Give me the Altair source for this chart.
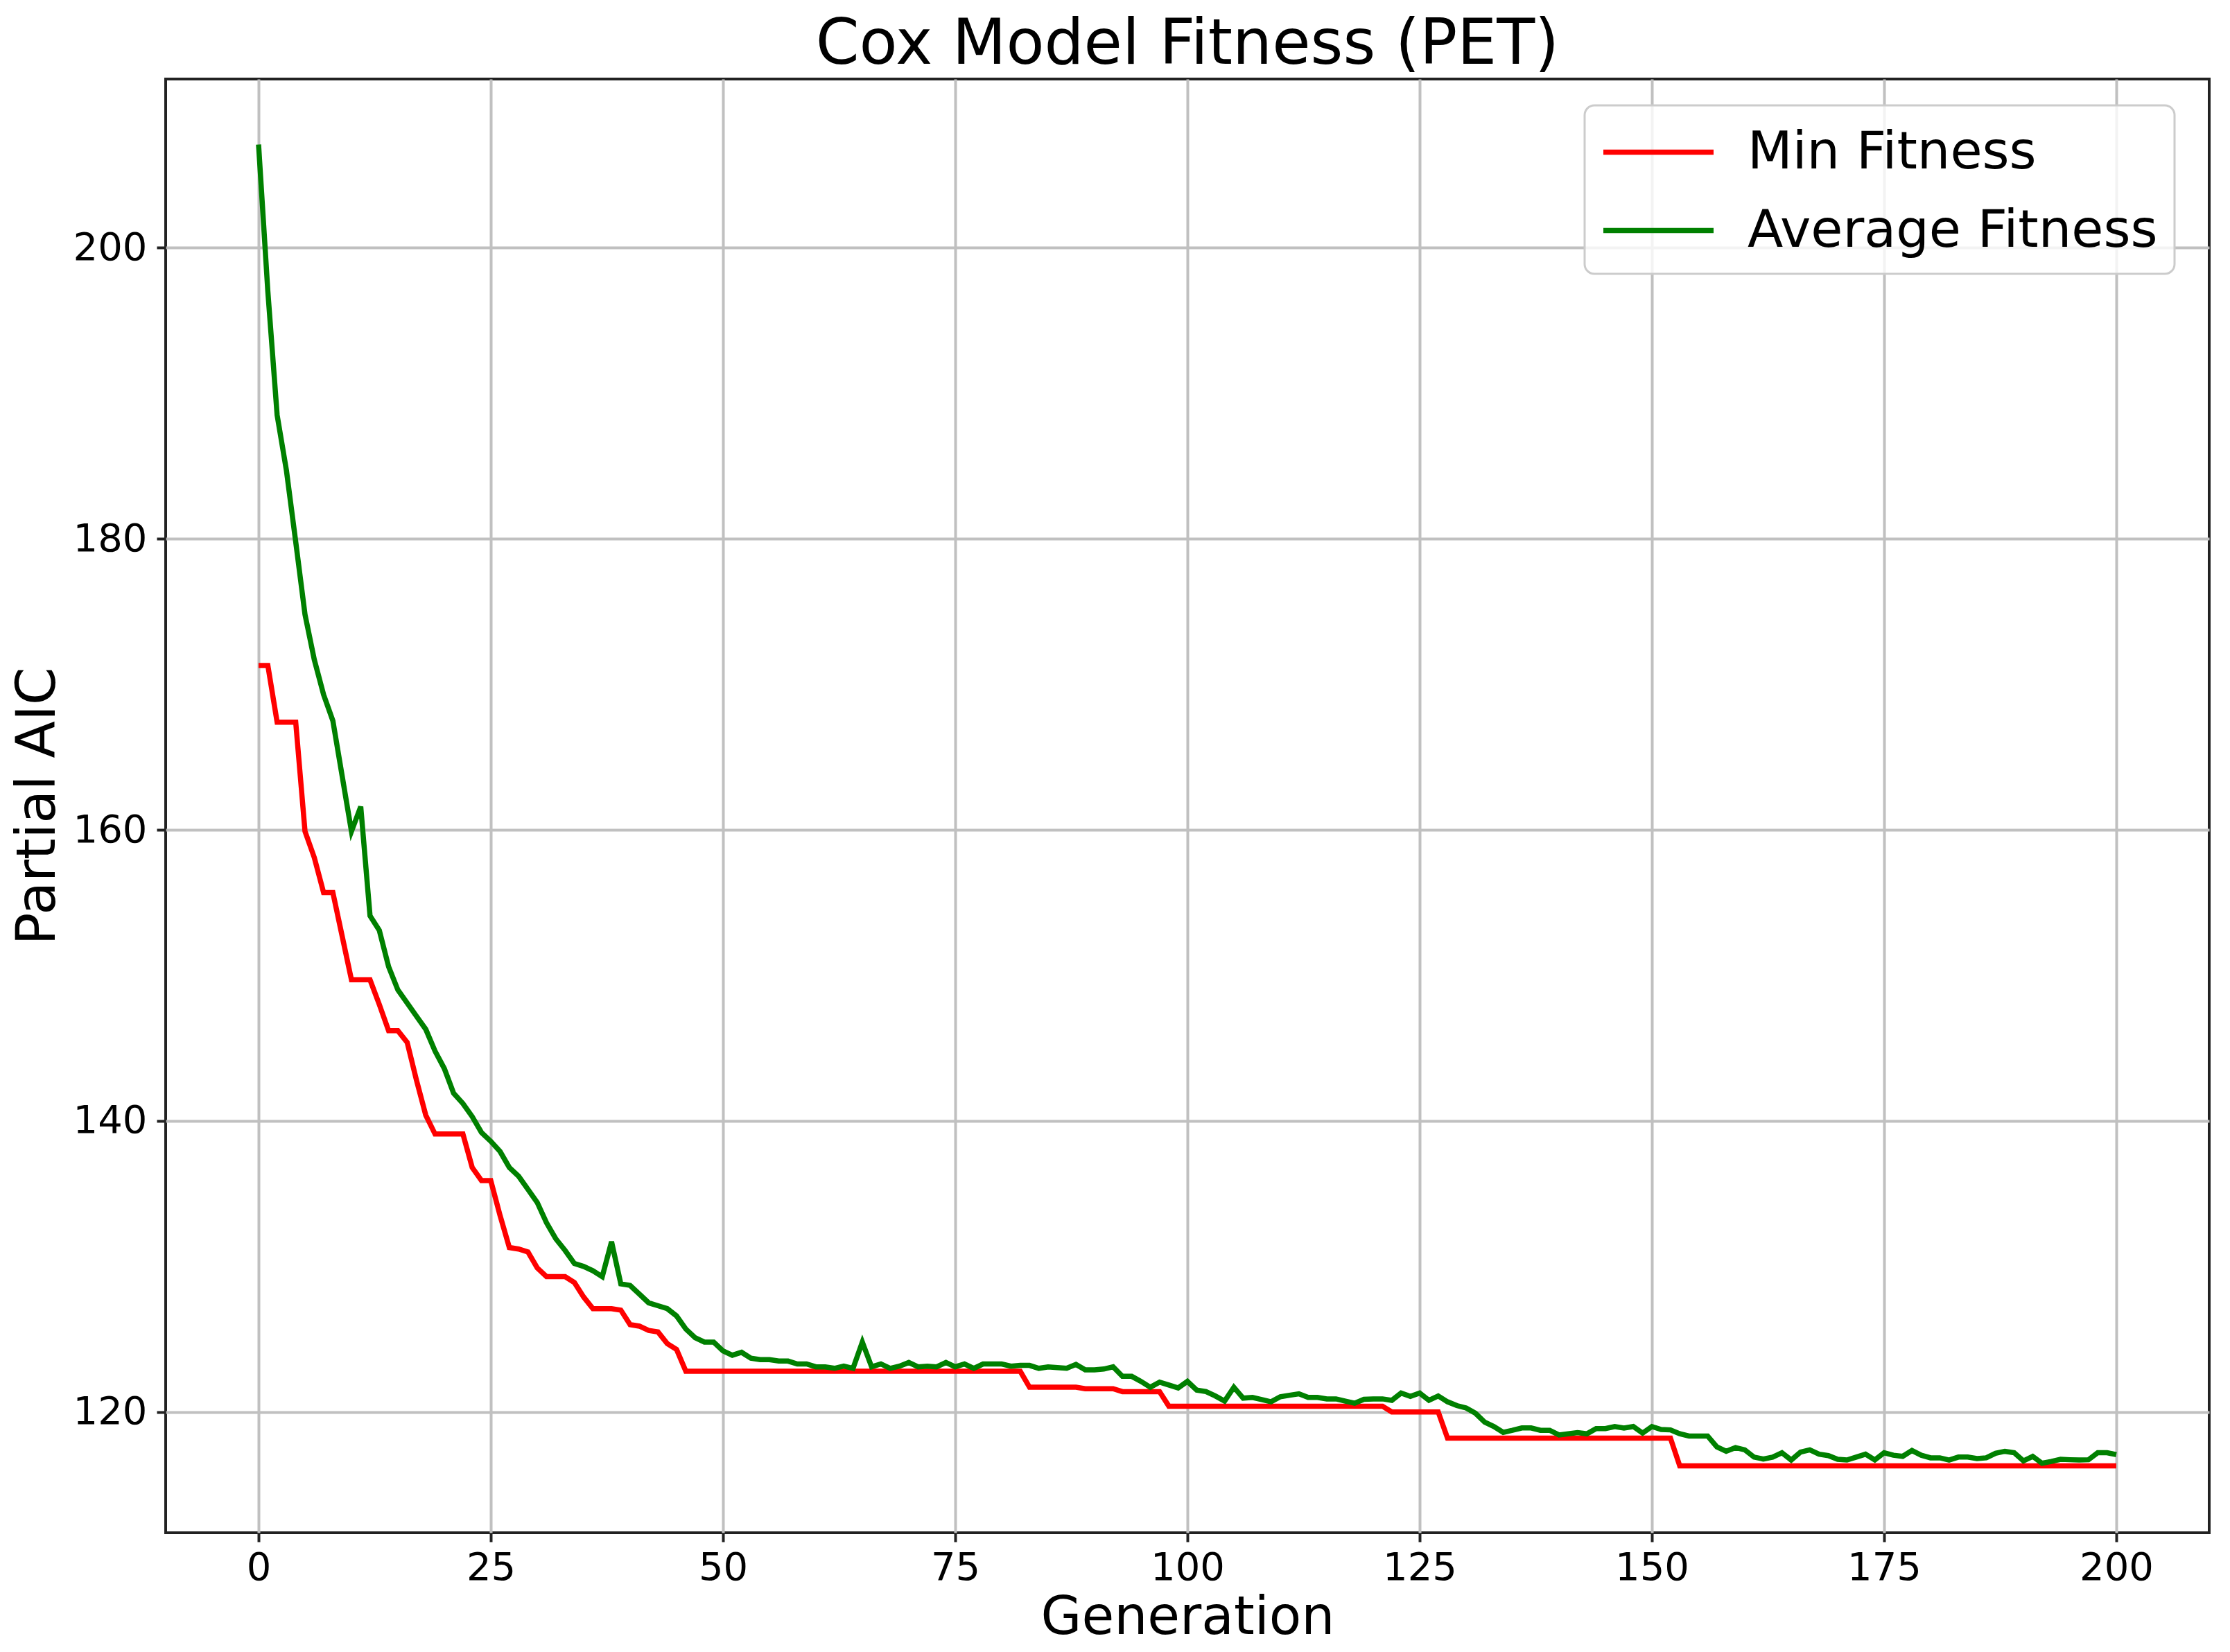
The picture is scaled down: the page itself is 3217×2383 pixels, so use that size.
import altair as alt
import pandas as pd

generations = list(range(201))

min_fitness = [
    171.3, 171.3, 167.4, 167.4, 167.4, 159.9, 158.1, 155.7, 155.7, 152.7,
    149.7, 149.7, 149.7, 148.0, 146.2, 146.2, 145.4, 142.8, 140.4, 139.1,
    139.1, 139.1, 139.1, 136.8, 135.9, 135.9, 133.5, 131.3, 131.2, 131.0,
    129.9, 129.3, 129.3, 129.3, 128.9, 127.9, 127.1, 127.1, 127.1, 127.0,
    126.0, 125.9, 125.6, 125.5, 124.7, 124.3, 122.8, 122.8, 122.8, 122.8,
    122.8, 122.8, 122.8, 122.8, 122.8, 122.8, 122.8, 122.8, 122.8, 122.8,
    122.8, 122.8, 122.8, 122.8, 122.8, 122.8, 122.8, 122.8, 122.8, 122.8,
    122.8, 122.8, 122.8, 122.8, 122.8, 122.8, 122.8, 122.8, 122.8, 122.8,
    122.8, 122.8, 122.8, 121.7, 121.7, 121.7, 121.7, 121.7, 121.7, 121.6,
    121.6, 121.6, 121.6, 121.4, 121.4, 121.4, 121.4, 121.4, 120.4, 120.4,
    120.4, 120.4, 120.4, 120.4, 120.4, 120.4, 120.4, 120.4, 120.4, 120.4,
    120.4, 120.4, 120.4, 120.4, 120.4, 120.4, 120.4, 120.4, 120.4, 120.4,
    120.4, 120.4, 120.0, 120.0, 120.0, 120.0, 120.0, 120.0, 118.2, 118.2,
    118.2, 118.2, 118.2, 118.2, 118.2, 118.2, 118.2, 118.2, 118.2, 118.2,
    118.2, 118.2, 118.2, 118.2, 118.2, 118.2, 118.2, 118.2, 118.2, 118.2,
    118.2, 118.2, 118.2, 116.3, 116.3, 116.3, 116.3, 116.3, 116.3, 116.3,
    116.3, 116.3, 116.3, 116.3, 116.3, 116.3, 116.3, 116.3, 116.3, 116.3,
    116.3, 116.3, 116.3, 116.3, 116.3, 116.3, 116.3, 116.3, 116.3, 116.3,
    116.3, 116.3, 116.3, 116.3, 116.3, 116.3, 116.3, 116.3, 116.3, 116.3,
    116.3, 116.3, 116.3, 116.3, 116.3, 116.3, 116.3, 116.3, 116.3, 116.3,
    116.3,
]

avg_fitness = [
    207.1, 197.0, 188.5, 184.7, 179.8, 174.8, 171.7, 169.3, 167.5, 163.7,
    159.9, 161.6, 154.1, 153.1, 150.6, 149.0, 148.1, 147.2, 146.3, 144.8,
    143.6, 141.9, 141.2, 140.3, 139.2, 138.6, 137.9, 136.8, 136.2, 135.3,
    134.4, 133.0, 131.9, 131.1, 130.2, 130.0, 129.7, 129.3, 131.7, 128.8,
    128.7, 128.1, 127.5, 127.3, 127.1, 126.6, 125.7, 125.1, 124.8, 124.8,
    124.2, 123.9, 124.1, 123.7, 123.6, 123.6, 123.5, 123.5, 123.3, 123.3,
    123.1, 123.1, 123.0, 123.15, 123.0, 124.8, 123.1, 123.3, 123.0, 123.15,
    123.4, 123.1, 123.15, 123.1, 123.4, 123.1, 123.3, 123.0, 123.3, 123.3,
    123.3, 123.15, 123.2, 123.2, 123.0, 123.1, 123.05, 123.0, 123.27, 122.9,
    122.9, 122.95, 123.1, 122.45, 122.45, 122.1, 121.7, 122.05, 121.85, 121.65,
    122.1, 121.5, 121.4, 121.1, 120.75, 121.7, 120.95, 121.0, 120.85, 120.7,
    121.05, 121.15, 121.25, 121.0, 121.0, 120.9, 120.9, 120.75, 120.6, 120.87,
    120.9, 120.9, 120.8, 121.3, 121.07, 121.3, 120.8, 121.1, 120.7, 120.44,
    120.28, 119.92, 119.3, 119.0, 118.6, 118.74, 118.9, 118.9, 118.74, 118.74,
    118.42, 118.5, 118.58, 118.5, 118.86, 118.86, 119.0, 118.9, 119.0, 118.55,
    119.0, 118.8, 118.77, 118.5, 118.35, 118.35, 118.35, 117.6, 117.3, 117.55,
    117.4, 116.9, 116.77, 116.9, 117.2, 116.7, 117.24, 117.4, 117.1, 117.0,
    116.75, 116.7, 116.9, 117.1, 116.7, 117.2, 117.03, 116.95, 117.35, 117.03,
    116.85, 116.85, 116.7, 116.9, 116.9, 116.8, 116.85, 117.16, 117.3, 117.2,
    116.64, 116.95, 116.48, 116.6, 116.75, 116.72, 116.7, 116.72, 117.2, 117.2,
    117.07,
]

series_names = ["Min Fitness", "Average Fitness"]
series_colors = ["#ff0000", "#008000"]
x_ticks = [0, 25, 50, 75, 100, 125, 150, 175, 200]
y_ticks = [120, 140, 160, 180, 200]

assert len(min_fitness) == len(generations) == len(avg_fitness)

df = pd.concat([
    pd.DataFrame({"Generation": generations, "value": min_fitness, "series": series_names[0]}),
    pd.DataFrame({"Generation": generations, "value": avg_fitness, "series": series_names[1]}),
])

FONT = "DejaVu Sans"

x_enc = alt.X(
    "Generation:Q",
    scale=alt.Scale(domain=[-10, 210], nice=False, zero=False),
    axis=alt.Axis(values=x_ticks, title="Generation", titlePadding=7, labelPadding=10,
                  titleFontSize=76),
)
y_enc = alt.Y(
    "value:Q",
    scale=alt.Scale(domain=[111.7, 211.6], nice=False, zero=False),
    axis=alt.Axis(values=y_ticks, title="Partial AIC", titlePadding=11, labelPadding=14),
)
color_enc = alt.Color(
    "series:N",
    scale=alt.Scale(domain=series_names, range=series_colors),
    sort=series_names,
    legend=alt.Legend(
        title=None,
        orient="none",
        legendX=2047,
        legendY=38,
        symbolType="M-2,0L2,0",
        symbolSize=6320,
        symbolStrokeWidth=7.5,
        symbolOffset=39,
        labelOffset=85,
        labelFont=FONT,
        labelFontSize=75,
        labelColor="black",
        labelLimit=2000,
        rowPadding=31,
        padding=24,
        strokeColor="#cccccc",
        fillColor="rgba(255,255,255,0.8)",
        cornerRadius=14,
    ),
)

base = alt.Chart(df).mark_line(strokeWidth=7.5, interpolate="linear").encode(
    x=x_enc, y=y_enc, color=color_enc
)

red_layer = base.transform_filter(alt.datum.series == series_names[0])
green_layer = base.transform_filter(alt.datum.series == series_names[1])

chart = (
    alt.layer(red_layer, green_layer)
    .properties(
        width=2948,
        height=2097,
        autosize=alt.AutoSizeParams(type="none"),
        padding={"left": 231, "top": 106, "right": 16, "bottom": 164},
        title=alt.TitleParams(
            "Cox Model Fitness (PET)",
            font=FONT,
            fontSize=90,
            fontWeight="normal",
            color="black",
            anchor="middle",
            frame="group",
            baseline="alphabetic",
            offset=-68,
        ),
    )
    .configure_view(stroke="#222222", strokeWidth=4)
    .configure_axis(
        labelFont=FONT,
        labelFontSize=56,
        labelColor="black",
        titleFont=FONT,
        titleFontSize=78,
        titleFontWeight="normal",
        titleColor="black",
        tickColor="#222222",
        tickWidth=4,
        tickSize=13,
        domain=False,
        grid=True,
        gridColor="#c0c0c0",
        gridWidth=4,
    )
    .configure_legend(strokeWidth=3)
)

chart.save("out.html", embed_options={"renderer": "svg", "actions": False})
